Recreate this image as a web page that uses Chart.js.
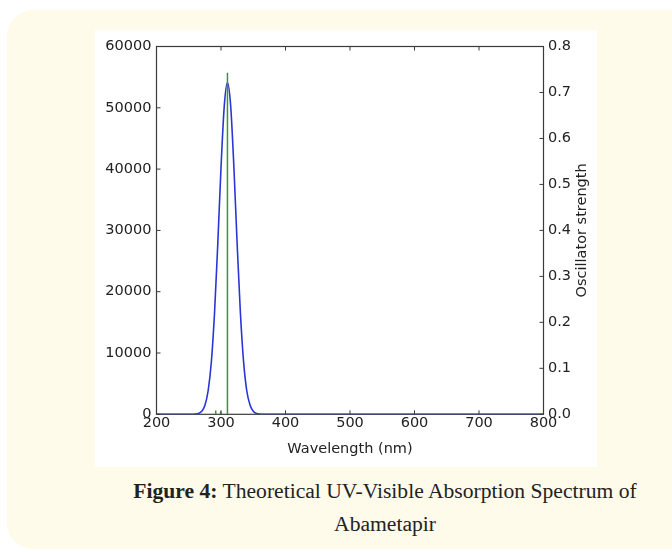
<!DOCTYPE html>
<html>
<head>
<meta charset="utf-8">
<script src="https://cdn.jsdelivr.net/npm/chart.js@4.4.1/dist/chart.umd.min.js"></script>
<style>
  html, body { margin: 0; padding: 0; background: #ffffff; }
  body { width: 672px; height: 552px; position: relative; overflow: hidden; }
  .panel {
    position: absolute; left: 7px; top: 10px; width: 720px; height: 539px;
    background: #fefbea; border-radius: 26px;
  }
  .plot {
    position: absolute; left: 95px; top: 30px; width: 502px; height: 437px;
    background: #ffffff;
  }
  .caption {
    position: absolute; left: 85px; width: 600px; top: 475px;
    font-family: "Liberation Serif", serif; font-size: 21.6px; line-height: 33px;
    color: #222; text-align: center;
  }
</style>
</head>
<body>
<div class="panel"></div>
<div class="plot"><canvas id="spectrum" width="502" height="437"></canvas></div>
<div class="caption"><b>Figure 4:</b> Theoretical UV-Visible Absorption Spectrum of<br>Abametapir</div>

<script>
// convoluted spectrum (nm, epsilon)
const wavelengths = [200, 255, 260, 265, 270, 275, 280, 285, 290, 295, 300, 305, 310, 315, 320, 325, 330, 335, 340, 345, 350, 355, 360, 365, 800]
const epsilon = [0, 0, 40, 140, 480, 1450, 3800, 8500, 16600, 27800, 40200, 50200, 54100, 50300, 40300, 27900, 16700, 8600, 3800, 1500, 500, 150, 40, 0, 0]

// excitations (nm, oscillator strength)
const stickNm = [291.8, 299.5, 310.0]
const stickStrength = [0.008, 0.006, 0.743]

const xTicks = [200, 300, 400, 500, 600, 700, 800]
const epsTicks = [0, 10000, 20000, 30000, 40000, 50000, 60000]
const fTicks = [0.0, 0.1, 0.2, 0.3, 0.4, 0.5, 0.6, 0.7, 0.8]

const axisColor = '#3a3a3a'
const textColor = '#222222'
const tickFont = { family: 'DejaVu Sans', size: 14.5 }

const spectrumPoints = wavelengths.map((nm, i) => ({ x: nm, y: epsilon[i] }))
const stickPoints = stickNm.flatMap((nm, i) => [
    { x: nm, y: 0 },
    { x: nm, y: stickStrength[i] },
    { x: nm, y: null }
])

// frame, inward tick marks and right axis title
const framePlugin = {
    id: 'frame',
    beforeDatasetsDraw(chart) {
        const { ctx, chartArea: a } = chart
        ctx.save()
        ctx.strokeStyle = axisColor
        ctx.lineWidth = 1.2
        ctx.strokeRect(a.left, a.top, a.right - a.left, a.bottom - a.top)
        ctx.restore()
    },
    afterDatasetsDraw(chart) {
        const { ctx, chartArea: a, scales } = chart
        const len = 4
        ctx.save()
        ctx.strokeStyle = axisColor
        ctx.lineWidth = 1
        ctx.beginPath()
        xTicks.forEach(v => {
            const px = scales.x.getPixelForValue(v)
            ctx.moveTo(px, a.bottom); ctx.lineTo(px, a.bottom - len)
            ctx.moveTo(px, a.top); ctx.lineTo(px, a.top + len)
        })
        epsTicks.forEach(v => {
            const py = scales.y.getPixelForValue(v)
            ctx.moveTo(a.left, py); ctx.lineTo(a.left + len, py)
        })
        fTicks.forEach(v => {
            const py = scales.y2.getPixelForValue(v)
            ctx.moveTo(a.right, py); ctx.lineTo(a.right - len, py)
        })
        ctx.stroke()

        ctx.fillStyle = textColor
        ctx.font = '14.5px "DejaVu Sans"'
        ctx.textAlign = 'center'
        ctx.textBaseline = 'middle'
        ctx.translate(487, (a.top + a.bottom) / 2)
        ctx.rotate(-Math.PI / 2)
        ctx.fillText('Oscillator strength', 0, 0)
        ctx.restore()
    }
}

const canvas = document.getElementById('spectrum')
const context = canvas.getContext('2d')

const chartSpectrum = new Chart(context, {
    type: 'line',
    data: {
        datasets: [
            {
                label: 'Oscillator strength',
                data: stickPoints,
                yAxisID: 'y2',
                borderColor: '#2f9a2f',
                borderWidth: 1.5,
                pointRadius: 0,
                spanGaps: false,
                order: 0
            },
            {
                label: 'Epsilon',
                data: spectrumPoints,
                yAxisID: 'y',
                borderColor: '#2a35d8',
                borderWidth: 1.6,
                pointRadius: 0,
                cubicInterpolationMode: 'monotone',
                order: 1
            }
        ]
    },
    options: {
        responsive: false,
        animation: false,
        layout: { padding: { top: 16.5, left: 0, right: 0, bottom: 0 } },
        plugins: {
            legend: { display: false },
            tooltip: { enabled: false }
        },
        scales: {
            x: {
                type: 'linear',
                min: 200,
                max: 800,
                afterFit: scale => { scale.height = 52.7 },
                afterBuildTicks: scale => { scale.ticks = xTicks.map(v => ({ value: v })) },
                grid: { display: false, drawTicks: false },
                border: { display: false },
                ticks: { color: textColor, font: tickFont, padding: 0 },
                title: {
                    display: true,
                    text: 'Wavelength (nm)',
                    color: textColor,
                    font: tickFont,
                    padding: { top: 0, bottom: 8.6 }
                }
            },
            y: {
                type: 'linear',
                position: 'left',
                min: 0,
                max: 60000,
                afterFit: scale => { scale.width = 61.5 },
                afterBuildTicks: scale => { scale.ticks = epsTicks.map(v => ({ value: v })) },
                grid: { display: false, drawTicks: false },
                border: { display: false },
                ticks: { color: textColor, font: tickFont, padding: 5, callback: v => String(v) }
            },
            y2: {
                type: 'linear',
                position: 'right',
                min: 0,
                max: 0.8,
                afterFit: scale => { scale.width = 53.5 },
                afterBuildTicks: scale => { scale.ticks = fTicks.map(v => ({ value: v })) },
                grid: { display: false, drawTicks: false },
                border: { display: false },
                ticks: { color: textColor, font: tickFont, padding: 4.5, callback: v => v.toFixed(1) }
            }
        }
    },
    plugins: [framePlugin]
})
</script>
</body>
</html>
